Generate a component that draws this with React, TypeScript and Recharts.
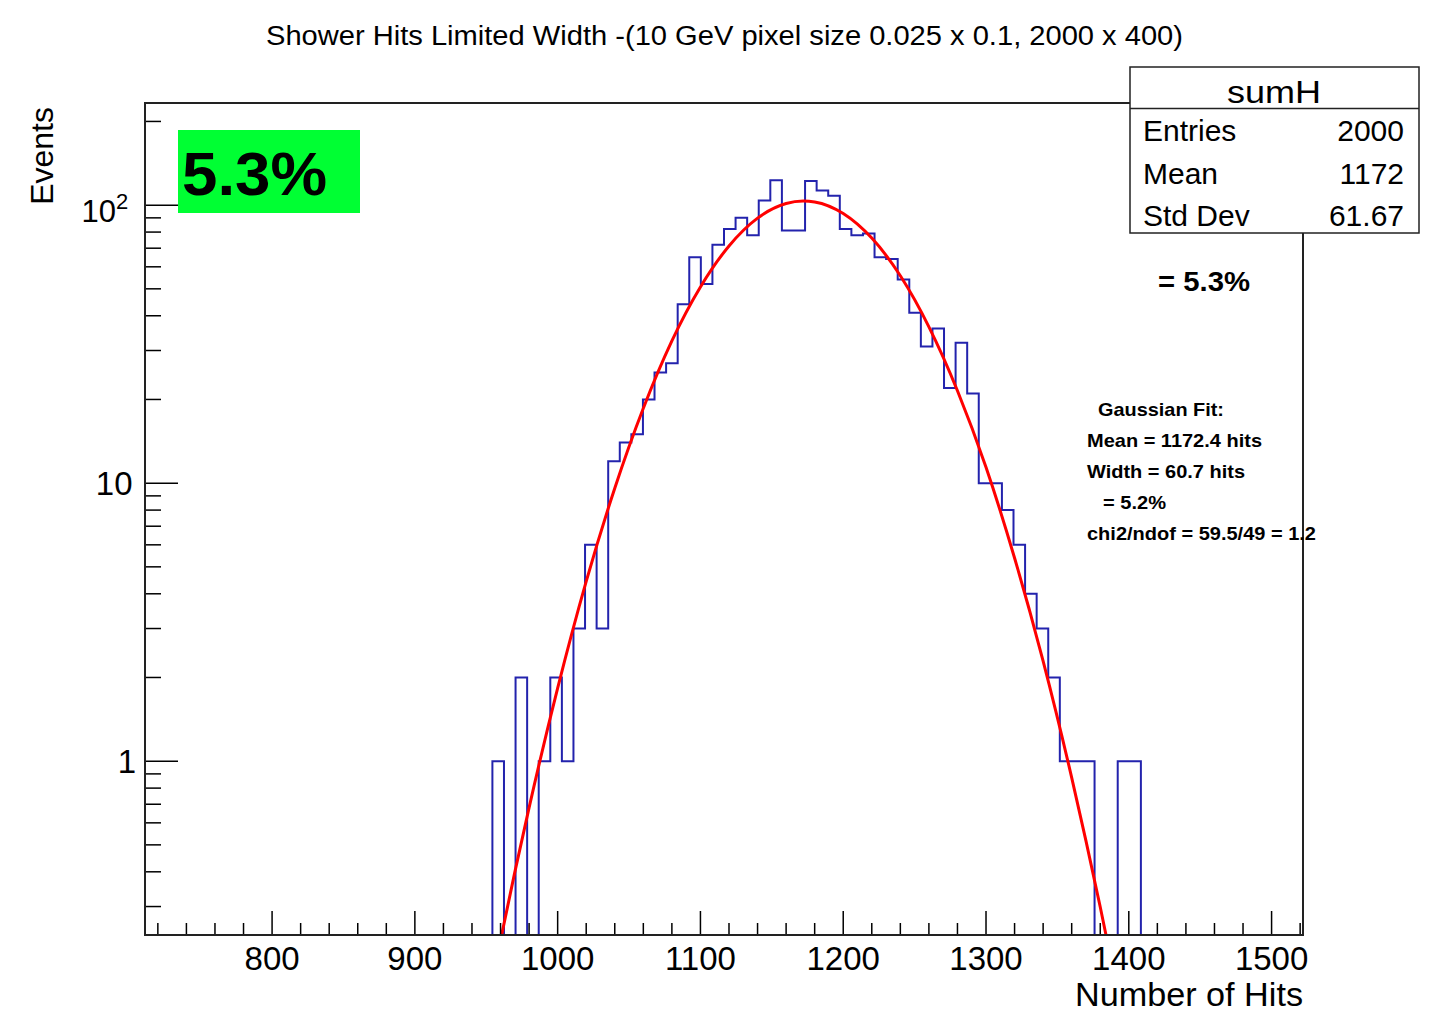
import { ComposedChart, Line, XAxis, YAxis } from 'recharts'

const FONT = '"Liberation Sans", Arial, Helvetica, sans-serif'

// histogram binning (sumH): 100 bins over the drawn x range
const X_MIN = 711
const X_MAX = 1522
const N_BINS = 100
const FIRST_BIN = 30

// log y range of the frame
const Y_MIN = 0.237
const Y_MAX = 233

// bin contents, starting at bin 30 (~954 hits)
const counts = [
  1, 0, 2, 0, 1, 2, 1, 3, 6, 3, 12, 14, 15,
  20, 25, 27, 44, 65, 52, 72, 82, 90, 78, 104, 123,
  81, 81, 122, 113, 108,
  82, 78, 79, 65, 64, 54, 41, 31, 36, 22, 32, 21,
  10, 10, 8, 6, 4, 3, 2, 1, 1, 1, 0, 0, 1, 1,
]

// gaussian fit curve
const fitX = [955, 960, 970, 980, 1000, 1020, 1040, 1060, 1080, 1100, 1120, 1140, 1160, 1172, 1180, 1200, 1220, 1240, 1260, 1280, 1300, 1320, 1340, 1360, 1370, 1380, 1390]
const fitY = [0.17, 0.227, 0.399, 0.681, 1.83, 4.43, 9.59, 18.6, 32.5, 50.8, 71.3, 89.8, 101.4, 103.5, 102.7, 93.3, 76.1, 55.7, 36.5, 21.5, 11.4, 5.38, 2.29, 0.873, 0.517, 0.299, 0.168]

const xMajorLabels = [800, 900, 1000, 1100, 1200, 1300, 1400, 1500]
const yTicks = [0.3, 0.4, 0.5, 0.6, 0.7, 0.8, 0.9, 1, 2, 3, 4, 5, 6, 7, 8, 9, 10, 20, 30, 40, 50, 60, 70, 80, 90, 100, 200]

const statsRows = [
  ['Entries', '2000'],
  ['Mean', '1172'],
  ['Std Dev', '61.67'],
]

// text, left x, width in the reference
const fitLines = [
  { text: 'Gaussian Fit:', x: 1098, w: 126 },
  { text: 'Mean = 1172.4 hits', x: 1087, w: 175 },
  { text: 'Width = 60.7 hits', x: 1087, w: 158 },
  { text: '= 5.2%', x: 1103, w: 63 },
  { text: 'chi2/ndof = 59.5/49 = 1.2', x: 1087, w: 229 },
]

// minor ticks every 20 hits
const xTicks: number[] = []
for (let v = 720; v <= 1520; v += 20) xTicks.push(v)

const binWidth = (X_MAX - X_MIN) / N_BINS

// step outline; empty bins drop to the bottom of the frame like ROOT does on log y
const histData: { x: number; y: number }[] = [{ x: X_MIN, y: Y_MIN }]
counts.forEach((c, i) => {
  histData.push({ x: X_MIN + (FIRST_BIN + i) * binWidth, y: c > 0 ? c : Y_MIN })
})
histData.push({ x: X_MIN + (FIRST_BIN + counts.length) * binWidth, y: Y_MIN })
histData.push({ x: X_MAX, y: Y_MIN })

const fitData = fitX.map((x, i) => ({ x, y: fitY[i] }))

// frame in page pixels
const FRAME = { left: 145, top: 103, right: 1303, bottom: 935 }
const W = 1437
const H = 1036

function XTick(props: any) {
  const { x, y, payload } = props
  const major = xMajorLabels.includes(payload.value)
  return (
    <g>
      <line x1={x} y1={y} x2={x} y2={y - (major ? 24 : 12)} stroke="#000" strokeWidth={1.5} />
      {major && (
        <text x={x} y={y + 35} textAnchor="middle" fontSize={33} fontFamily={FONT} fill="#000">
          {payload.value}
        </text>
      )}
    </g>
  )
}

function YTick(props: any) {
  const { x, y, payload } = props
  const v = payload.value
  const lg = Math.log10(v)
  const major = Math.abs(lg - Math.round(lg)) < 1e-6
  let label = null
  if (major && Math.round(lg) === 0) {
    label = (
      <text x={136} y={y + 12} textAnchor="end" fontSize={33} fontFamily={FONT} fill="#000">1</text>
    )
  } else if (major && Math.round(lg) === 1) {
    label = (
      <text x={132.5} y={y + 12} textAnchor="end" fontSize={33} fontFamily={FONT} fill="#000">10</text>
    )
  } else if (major && Math.round(lg) === 2) {
    label = (
      <g>
        <text x={116} y={y + 17} textAnchor="end" fontSize={31} fontFamily={FONT} fill="#000">10</text>
        <text x={116} y={y + 4} fontSize={22} fontFamily={FONT} fill="#000">2</text>
      </g>
    )
  }
  return (
    <g>
      <line x1={x} y1={y} x2={x + (major ? 33 : 16)} y2={y} stroke="#000" strokeWidth={1.5} />
      {label}
    </g>
  )
}

export default function App() {
  const xAxisHeight = 80
  const yAxisWidth = 100
  return (
    <div
      style={{
        position: 'relative',
        width: W,
        height: H,
        margin: -8,
        background: '#f3f0ea',
        overflow: 'hidden',
        fontFamily: FONT,
      }}
    >
      <div style={{ position: 'absolute', left: 8, top: 8, right: 0, bottom: 0, background: '#fff' }} />

      <div style={{ position: 'absolute', left: 0, top: 0 }}>
        <ComposedChart
          width={W}
          height={H}
          margin={{
            top: FRAME.top,
            right: W - FRAME.right,
            left: FRAME.left - yAxisWidth,
            bottom: H - FRAME.bottom - xAxisHeight,
          }}
        >
          <XAxis
            type="number"
            dataKey="x"
            domain={[X_MIN, X_MAX]}
            allowDataOverflow
            ticks={xTicks}
            interval={0}
            tickSize={0}
            tickMargin={0}
            axisLine={false}
            tick={(p: any) => <XTick {...p} />}
            height={xAxisHeight}
          />
          <YAxis
            type="number"
            scale="log"
            domain={[Y_MIN, Y_MAX]}
            allowDataOverflow
            ticks={yTicks}
            interval={0}
            tickSize={0}
            tickMargin={0}
            axisLine={false}
            tick={(p: any) => <YTick {...p} />}
            width={yAxisWidth}
          />
          <Line
            data={histData}
            dataKey="y"
            type="stepAfter"
            stroke="#2323ad"
            strokeWidth={2}
            dot={false}
            activeDot={false}
            isAnimationActive={false}
          />
          <Line
            data={fitData}
            dataKey="y"
            type="monotone"
            stroke="#ff0000"
            strokeWidth={3}
            dot={false}
            activeDot={false}
            isAnimationActive={false}
          />
        </ComposedChart>
      </div>

      {/* frame */}
      <div
        style={{
          position: 'absolute',
          left: FRAME.left - 1,
          top: FRAME.top - 1,
          width: FRAME.right - FRAME.left + 2,
          height: FRAME.bottom - FRAME.top + 2,
          border: '2px solid #222',
          boxSizing: 'border-box',
          pointerEvents: 'none',
        }}
      />

      <svg width={W} height={H} style={{ position: 'absolute', left: 0, top: 0, pointerEvents: 'none' }} fontFamily={FONT}>
        <text x={266} y={45} fontSize={27} textLength={917} lengthAdjust="spacingAndGlyphs" fill="#000">
          Shower Hits Limited Width -(10 GeV pixel size 0.025 x 0.1, 2000 x 400)
        </text>
        <text transform="translate(53,107) rotate(-90)" textAnchor="end" fontSize={32} fill="#000">
          Events
        </text>
        <text x={1075} y={1006} fontSize={33} textLength={228} lengthAdjust="spacingAndGlyphs" fill="#000">
          Number of Hits
        </text>

        <rect x={178} y={130} width={182} height={83} fill="#00ff33" />
        <text x={182} y={195} fontSize={62} fontWeight="bold" textLength={145} lengthAdjust="spacingAndGlyphs" fill="#000">5.3%</text>

        <rect x={1130} y={67} width={289} height={166} fill="#fff" stroke="#222" strokeWidth={1.5} />
        <line x1={1130} y1={108.5} x2={1419} y2={108.5} stroke="#222" strokeWidth={1.5} />
        <text x={1227} y={103} fontSize={32} textLength={94} lengthAdjust="spacingAndGlyphs" fill="#000">sumH</text>
        {statsRows.map(([k, v], i) => (
          <g key={k}>
            <text x={1143} y={141 + i * 42.5} fontSize={30} fill="#000">{k}</text>
            <text x={1404} y={141 + i * 42.5} textAnchor="end" fontSize={30} fill="#000">{v}</text>
          </g>
        ))}

        <text x={1158} y={291} fontSize={27} fontWeight="bold" textLength={92} lengthAdjust="spacingAndGlyphs" fill="#000">= 5.3%</text>

        {fitLines.map((l, i) => (
          <text
            key={l.text}
            x={l.x}
            y={415.5 + i * 31.2}
            fontSize={19}
            fontWeight="bold"
            textLength={l.w}
            lengthAdjust="spacingAndGlyphs"
            fill="#000"
          >
            {l.text}
          </text>
        ))}
      </svg>
    </div>
  )
}
